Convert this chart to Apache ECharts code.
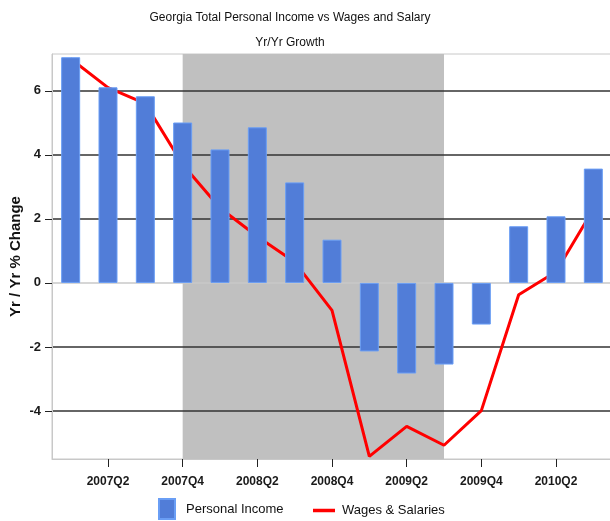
<!DOCTYPE html>
<html>
<head>
<meta charset="utf-8">
<script src="https://cdn.jsdelivr.net/npm/echarts@6/dist/echarts.min.js"></script>
<style>
  html, body { margin: 0; padding: 0; background: #ffffff; }
  #chart { width: 610px; height: 521px; }
</style>
</head>
<body>
<div id="chart"></div>
<script>
// Quarterly year-over-year growth, Georgia
const quarters = ['2007Q1', '2007Q2', '2007Q3', '2007Q4', '2008Q1', '2008Q2', '2008Q3', '2008Q4',
                  '2009Q1', '2009Q2', '2009Q3', '2009Q4', '2010Q1', '2010Q2', '2010Q3'];
const personalIncome = [7.05, 6.11, 5.83, 5.01, 4.17, 4.86, 3.14, 1.35,
                        -2.14, -2.83, -2.55, -1.30, 1.77, 2.08, 3.57];
const wagesSalaries = [7.0, 6.1, 5.6, 3.7, 2.34, 1.45, 0.65, -0.86,
                       -5.42, -4.48, -5.07, -3.99, -0.37, 0.35, 2.3];
// Recession span shaded behind the bars
const recession = ['2007Q4', '2009Q3'];
const yTickValues = [-4, -2, 0, 2, 4, 6];

const chart = echarts.init(document.getElementById('chart'), null, { renderer: 'canvas' });
const font = 'Liberation Sans, Arial, sans-serif';

// dark grid lines everywhere except a light one at zero
const splitColors = yTickValues.map(v => (v === 0 ? '#c8c8c8' : '#333333'));

const option = {
  animation: false,
  backgroundColor: '#ffffff',
  title: [
    { text: 'Georgia Total Personal Income vs Wages and Salary', left: 285, top: 7, textAlign: 'center',
      textStyle: { fontFamily: font, fontSize: 12, fontWeight: 'normal', color: '#111' } },
    { text: 'Yr/Yr Growth', left: 285, top: 32, textAlign: 'center',
      textStyle: { fontFamily: font, fontSize: 12, fontWeight: 'normal', color: '#111' } }
  ],
  legend: [
    { data: ['Personal Income'], left: 153, top: 493, itemWidth: 16, itemHeight: 20,
      icon: 'rect', textStyle: { fontFamily: font, fontSize: 13, color: '#111', padding: [3, 0, 0, 6] } },
    { data: ['Wages & Salaries'], left: 308, top: 499, itemWidth: 22, itemHeight: 3.5,
      icon: 'rect', textStyle: { fontFamily: font, fontSize: 13, color: '#111', padding: [2, 0, 0, 2] } }
  ],
  grid: {
    left: 52, top: 54, width: 560, height: 405,
    outerBoundsMode: 'none',
    containLabel: false,
    show: true, backgroundColor: '#ffffff', borderColor: '#c8c8c8', borderWidth: 1
  },
  xAxis: {
    type: 'category',
    data: quarters,
    boundaryGap: true,
    axisLine: { show: true, onZero: false, lineStyle: { color: '#c8c8c8' } },
    axisTick: { show: true, alignWithLabel: true, length: 8, interval: (i) => i % 2 === 1,
                lineStyle: { color: '#222' } },
    axisLabel: { interval: (i) => i % 2 === 1, margin: 17, fontFamily: font, fontSize: 12,
                 fontWeight: 'bold', color: '#1a1a1a' },
    splitLine: { show: false }
  },
  yAxis: {
    type: 'value',
    min: -5.5,
    max: 7.15,
    z: 1.5,
    name: 'Yr / Yr % Change',
    nameLocation: 'middle',
    nameGap: 29,
    nameMoveOverlap: false,
    nameTextStyle: { fontFamily: font, fontSize: 15, fontWeight: 'bold', color: '#111' },
    axisLine: { show: true, lineStyle: { color: '#c8c8c8' } },
    axisTick: { show: true, length: 7, lineStyle: { color: '#222' }, customValues: yTickValues },
    axisLabel: { margin: 11, fontFamily: font, fontSize: 13, fontWeight: 'bold', color: '#1a1a1a',
                 customValues: yTickValues },
    splitLine: { show: true, lineStyle: { color: splitColors, width: 1.6 } }
  },
  series: [
    {
      name: 'Wages & Salaries',
      type: 'line',
      data: wagesSalaries,
      z: 2,
      symbol: 'none',
      lineStyle: { color: '#ff0000', width: 3 },
      itemStyle: { color: '#ff0000' },
      markArea: {
        silent: true,
        itemStyle: { color: '#c0c0c0' },
        data: [[{ xAxis: recession[0] }, { xAxis: recession[1] }]]
      }
    },
    {
      name: 'Personal Income',
      type: 'bar',
      data: personalIncome,
      z: 3,
      barWidth: 19,
      itemStyle: { color: '#517dd8', borderColor: '#6a9ef5', borderWidth: 1 }
    }
  ]
};

chart.setOption(option);
</script>
</body>
</html>
